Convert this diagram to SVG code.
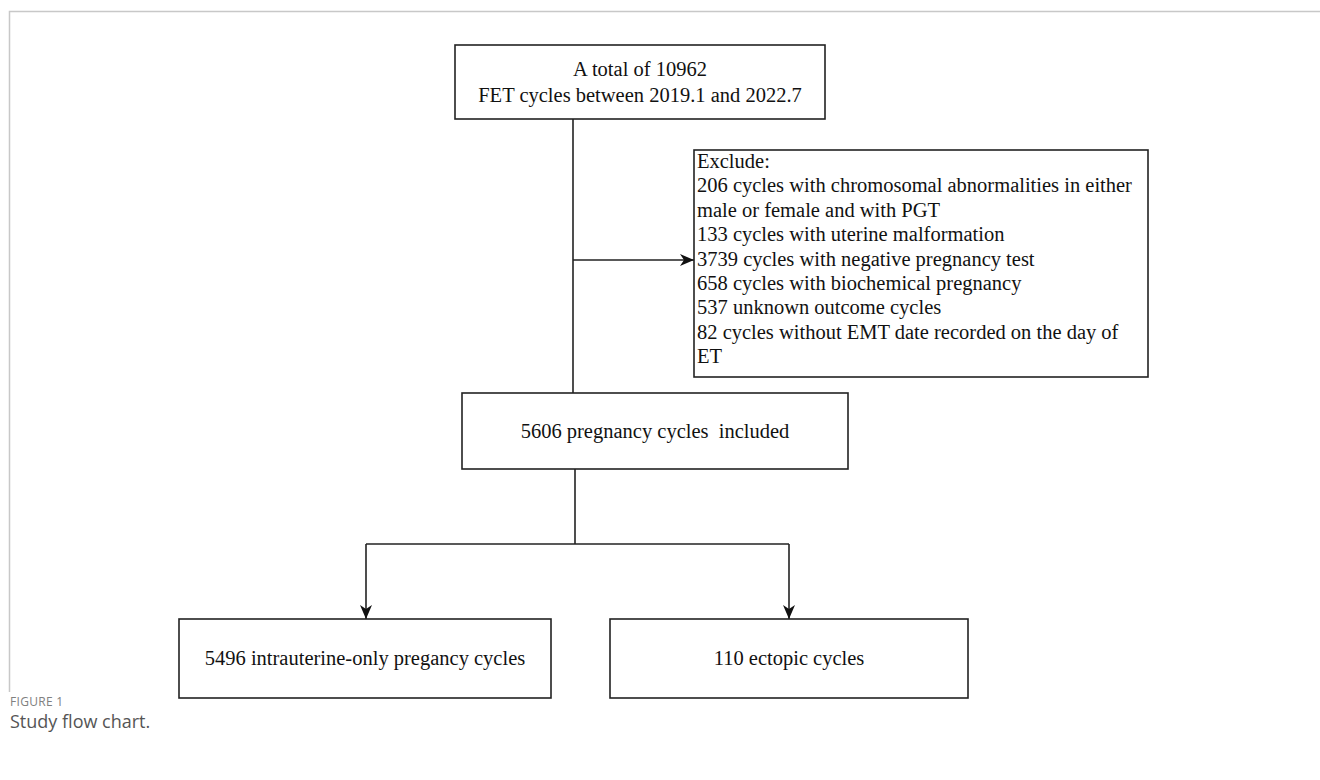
<svg xmlns="http://www.w3.org/2000/svg" width="1320" height="780" viewBox="0 0 1320 780">
<defs>
<marker id="ah" viewBox="0 0 14 12" refX="14" refY="6" markerWidth="14" markerHeight="12" markerUnits="userSpaceOnUse" orient="auto">
<path d="M0,0 L14,6 L0,12 L4,6 z" fill="#111"/>
</marker>
<style>
.box{fill:#fff;stroke:#222;stroke-width:1.6}
.t{font-family:"Liberation Serif","Times New Roman",serif;font-size:20.5px;fill:#111}
.c{text-anchor:middle}
.ln{fill:none;stroke:#222;stroke-width:1.6}
.frame{fill:none;stroke:#c8c8c8;stroke-width:1.5}
.cap1{font-family:"Open Sans","Noto Sans",sans-serif;font-size:12px;fill:#808080;letter-spacing:0.3px}
.cap2{font-family:"Open Sans","Noto Sans",sans-serif;font-size:18px;fill:#555}
</style>
</defs>
<path class="frame" d="M9.5,692 V11.5 H1320"/>
<g id="connectors">
<path class="ln" d="M573,119 V393"/>
<path class="ln" d="M573,260 H694" marker-end="url(#ah)"/>
<path class="ln" d="M575,469 V544"/>
<path class="ln" d="M366,544 H789"/>
<path class="ln" d="M366,544 V619" marker-end="url(#ah)"/>
<path class="ln" d="M789,544 V619" marker-end="url(#ah)"/>
</g>
<g id="n-total">
<rect class="box" x="455" y="45" width="370" height="74"/>
<text class="t c" x="640" y="76">A total of 10962</text>
<text class="t c" x="640" y="102">FET cycles between 2019.1 and 2022.7</text>
</g>
<g id="n-exclude">
<rect class="box" x="694" y="150" width="454" height="227"/>
<text class="t" x="697" y="168">Exclude:</text>
<text class="t" x="697" y="192.4">206 cycles with chromosomal abnormalities in either</text>
<text class="t" x="697" y="216.8">male or female and with PGT</text>
<text class="t" x="697" y="241.2">133 cycles with uterine malformation</text>
<text class="t" x="697" y="265.6">3739 cycles with negative pregnancy test</text>
<text class="t" x="697" y="290">658 cycles with biochemical pregnancy</text>
<text class="t" x="697" y="314.4">537 unknown outcome cycles</text>
<text class="t" x="697" y="338.8">82 cycles without EMT date recorded on the day of</text>
<text class="t" x="697" y="363.2">ET</text>
</g>
<g id="n-included">
<rect class="box" x="462" y="393" width="386" height="76"/>
<text class="t c" x="655" y="438" xml:space="preserve">5606 pregnancy cycles  included</text>
</g>
<g id="n-intrauterine">
<rect class="box" x="179" y="619" width="372" height="79"/>
<text class="t c" x="365" y="665">5496 intrauterine-only pregancy cycles</text>
</g>
<g id="n-ectopic">
<rect class="box" x="610" y="619" width="358" height="79"/>
<text class="t c" x="789" y="665">110 ectopic cycles</text>
</g>
<text class="cap1" x="10" y="706">FIGURE 1</text>
<text class="cap2" x="10" y="728">Study flow chart.</text>
</svg>
